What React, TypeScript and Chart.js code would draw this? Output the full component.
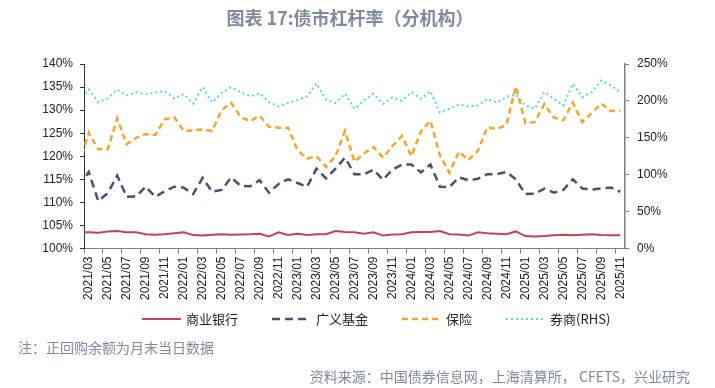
import React, { useEffect, useRef } from 'react';
import { Chart, registerables } from 'chart.js';

Chart.register(...registerables);

// Categories (2021/02 is only partly visible at the left edge, as in the reference)
const months = [
  '2021/02', '2021/03', '2021/04', '2021/05', '2021/06', '2021/07', '2021/08', '2021/09', '2021/10', '2021/11', '2021/12',
  '2022/01', '2022/02', '2022/03', '2022/04', '2022/05', '2022/06', '2022/07', '2022/08', '2022/09', '2022/10', '2022/11', '2022/12',
  '2023/01', '2023/02', '2023/03', '2023/04', '2023/05', '2023/06', '2023/07', '2023/08', '2023/09', '2023/10', '2023/11', '2023/12',
  '2024/01', '2024/02', '2024/03', '2024/04', '2024/05', '2024/06', '2024/07', '2024/08', '2024/09', '2024/10', '2024/11', '2024/12',
  '2025/01', '2025/02', '2025/03', '2025/04', '2025/05', '2025/06', '2025/07', '2025/08', '2025/09', '2025/10', '2025/11',
];
const firstVisibleMonth = '2021/03';

// 商业银行 (left axis, %)
const bankValues = [
  103.5,
  103.5, 103.4, 103.7, 103.8, 103.5, 103.5, 103.1, 103.0, 103.1, 103.3,
  103.5, 102.9, 102.8, 103.0, 103.1, 103.0, 103.05, 103.1, 103.2, 102.6,
  103.5, 102.95, 103.2, 102.95, 103.1, 103.1, 103.8, 103.6, 103.5, 103.2,
  103.5, 102.8, 103.05, 103.1, 103.5, 103.6, 103.6, 103.8, 103.1, 103.05,
  102.8, 103.5, 103.3, 103.2, 103.1, 103.7, 102.7, 102.6, 102.7, 102.85,
  103.0, 102.85, 103.0, 103.1, 102.95, 102.85, 102.85,
];
// 广义基金 (left axis, %)
const fundValues = [
  113.4,
  116.6, 110.3, 112.0, 115.8, 111.2, 111.3, 113.4, 111.2, 112.4, 113.4,
  113.2, 111.8, 115.3, 112.3, 112.7, 115.4, 113.6, 113.5, 114.8, 112.1,
  114.0, 115.0, 114.2, 113.4, 117.3, 115.2, 117.3, 119.7, 116.1, 116.1,
  117.1, 114.9, 117.1, 118.2, 118.2, 116.5, 118.2, 113.4, 113.3, 115.4,
  114.8, 115.1, 116.1, 116.1, 116.6, 115.0, 111.8, 111.9, 113.0, 112.1,
  112.7, 115.0, 113.0, 112.8, 113.0, 113.2, 112.3,
];
// 保险 (left axis, %)
const insuranceValues = [
  118.3,
  125.1, 121.5, 121.5, 128.2, 122.6, 124.0, 124.8, 124.6, 128.0, 128.5,
  125.5, 125.6, 125.8, 125.5, 130.0, 131.6, 128.5, 127.6, 128.8, 126.4,
  126.2, 126.2, 121.3, 119.5, 120.0, 117.7, 120.0, 125.5, 118.8, 120.6,
  122.0, 119.7, 122.2, 124.4, 120.0, 125.4, 127.7, 120.2, 116.4, 121.0,
  119.2, 121.2, 126.3, 125.9, 126.8, 135.1, 127.2, 127.4, 131.3, 128.4,
  127.8, 131.6, 127.4, 129.4, 131.4, 129.8, 129.8,
];
// 券商 (right axis, %)
const brokerValues = [
  199.5,
  215.7, 198.3, 203.3, 215.3, 207.4, 211.8, 209.2, 211.2, 213.6, 203.3,
  209.2, 196.2, 218.6, 198.0, 210.7, 218.6, 211.8, 206.4, 210.1, 198.3,
  192.5, 197.3, 201.1, 206.2, 223.6, 201.7, 197.2, 209.7, 189.3, 201.1,
  209.7, 196.2, 204.7, 200.1, 211.8, 202.9, 213.2, 184.4, 189.4, 195.2,
  192.5, 193.9, 202.5, 197.6, 205.5, 208.5, 193.9, 189.4, 211.8, 202.9,
  193.9, 223.2, 205.1, 211.8, 227.6, 220.9, 211.8,
];

const seriesNames = ['商业银行', '广义基金', '保险', '券商(RHS)'];
const seriesValues = [bankValues, fundValues, insuranceValues, brokerValues];
const seriesAxes = ['y', 'y', 'y', 'y1'];
const seriesColors = ['#c0435a', '#44546a', '#f0a732', '#5dd5d2'];
const seriesDashes: number[][] = [[], [8, 5], [6, 4], [2, 3]];
const seriesWidths = [2, 2.5, 2.5, 2];

const leftTicks = { min: 100, max: 140, step: 5 };
const rightTicks = { min: 0, max: 250, step: 50 };

const titleText = '图表 17:债市杠杆率（分机构）';
const noteText = '注：正回购余额为月末当日数据';
const sourceText = '资料来源：中国债券信息网，上海清算所， CFETS，兴业研究';

const W = 715;
const H = 388;

export default function App() {
  const ref = useRef<HTMLCanvasElement | null>(null);

  useEffect(() => {
    const canvas = ref.current;
    if (!canvas) return;
    const tickFont = { family: '"Liberation Sans", Arial, sans-serif', size: 12 };
    const chart = new Chart(canvas, {
      type: 'line',
      data: {
        labels: months,
        datasets: seriesNames.map((name, k) => ({
          label: name,
          data: seriesValues[k],
          yAxisID: seriesAxes[k],
          borderColor: seriesColors[k],
          backgroundColor: seriesColors[k],
          borderWidth: seriesWidths[k],
          borderDash: seriesDashes[k],
          pointRadius: 0,
          tension: 0,
          fill: false,
        })),
      },
      options: {
        responsive: false,
        devicePixelRatio: 1,
        animation: false,
        events: [],
        layout: { padding: { top: 64, left: 0, right: 0, bottom: 0 } },
        plugins: {
          legend: { display: false },
          title: { display: false },
          tooltip: { enabled: false },
        },
        scales: {
          x: {
            type: 'category',
            offset: true,
            min: firstVisibleMonth,
            grid: {
              drawOnChartArea: false,
              offset: true,
              tickLength: 5,
              color: (ctx: any) => (ctx.index % 2 === 0 ? '#7f7f7f' : 'rgba(0,0,0,0)'),
            },
            border: { color: '#7f7f7f', width: 1 },
            ticks: {
              autoSkip: false,
              maxRotation: 90,
              minRotation: 90,
              padding: 3,
              color: '#222',
              font: tickFont,
              callback: function (this: any, v: any, i: number) {
                return i % 2 === 0 ? this.getLabelForValue(v) : '';
              },
            },
            afterFit: (s: any) => {
              s.height = H - 248.5;
            },
          },
          y: {
            position: 'left',
            min: leftTicks.min,
            max: leftTicks.max,
            grid: { drawOnChartArea: false, tickLength: 4, color: '#333' },
            border: { color: '#333', width: 1 },
            ticks: {
              stepSize: leftTicks.step,
              padding: 7,
              color: '#222',
              font: tickFont,
              callback: (v: any) => v + '%',
            },
            afterFit: (s: any) => {
              s.width = 84;
            },
          },
          y1: {
            position: 'right',
            min: rightTicks.min,
            max: rightTicks.max,
            grid: { drawOnChartArea: false, tickLength: 4, color: '#7f7f7f' },
            border: { color: '#7f7f7f', width: 1.5 },
            ticks: {
              stepSize: rightTicks.step,
              padding: 8,
              color: '#222',
              font: tickFont,
              callback: (v: any) => v + '%',
            },
            afterFit: (s: any) => {
              s.width = W - 625;
            },
          },
        },
      } as any,
    });
    return () => chart.destroy();
  }, []);

  return (
    <div
      style={{
        position: 'absolute',
        left: 0,
        top: 0,
        width: W,
        height: H,
        background: '#fff',
        overflow: 'hidden',
        fontFamily: '"Noto Sans CJK SC", "Noto Sans", sans-serif',
      }}
    >
      <canvas ref={ref} width={W} height={H} style={{ position: 'absolute', left: 0, top: 0, width: W, height: H }} />
      <div
        style={{
          position: 'absolute',
          left: 0,
          top: 4,
          width: 700,
          textAlign: 'center',
          fontSize: 18,
          fontWeight: 700,
          color: '#7f8a9b',
          lineHeight: '26px',
        }}
      >
        {titleText}
      </div>
      <div
        style={{
          position: 'absolute',
          left: 142,
          top: 309,
          display: 'flex',
          alignItems: 'center',
          gap: 34,
          fontSize: 13,
          color: '#222',
          lineHeight: '20px',
          whiteSpace: 'nowrap',
        }}
      >
        {seriesNames.map((name, k) => (
          <div key={name} style={{ display: 'flex', alignItems: 'center' }}>
            <svg width={39} height={6} style={{ marginRight: 5 }}>
              <line
                x1={0}
                y1={3}
                x2={39}
                y2={3}
                stroke={seriesColors[k]}
                strokeWidth={seriesWidths[k]}
                strokeDasharray={seriesDashes[k].length ? seriesDashes[k].join(' ') : undefined}
              />
            </svg>
            <span>{name}</span>
          </div>
        ))}
      </div>
      <div
        style={{
          position: 'absolute',
          left: 18,
          top: 337,
          fontSize: 14,
          color: '#7f8a9b',
          lineHeight: '20px',
          whiteSpace: 'nowrap',
        }}
      >
        {noteText}
      </div>
      <div
        style={{
          position: 'absolute',
          right: W - 690,
          top: 366,
          fontSize: 14,
          color: '#7f8a9b',
          lineHeight: '20px',
          whiteSpace: 'nowrap',
        }}
      >
        {sourceText}
      </div>
    </div>
  );
}
